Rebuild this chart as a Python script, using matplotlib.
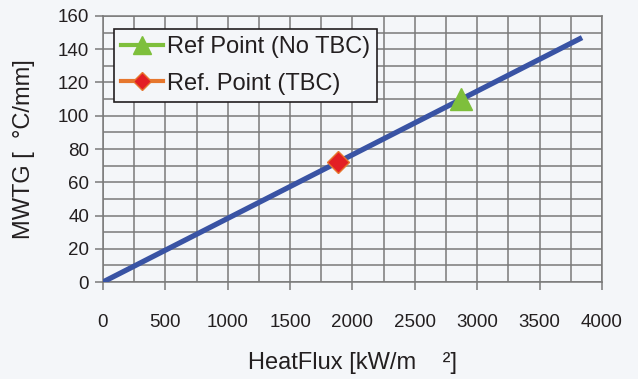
import matplotlib
matplotlib.use("Agg")
import matplotlib.pyplot as plt
from matplotlib.ticker import MultipleLocator

plt.rcParams['font.family'] = ['Liberation Sans', 'DejaVu Sans']

# data
line_x = [0, 3840]
line_y = [0, 147]
no_tbc_x = [2870]
no_tbc_y = [110]
tbc_x = [1880]
tbc_y = [72]
x_ticks = [0, 500, 1000, 1500, 2000, 2500, 3000, 3500, 4000]
y_ticks = [0, 20, 40, 60, 80, 100, 120, 140, 160]

bg = "#f4f6f9"
fig = plt.figure(figsize=(6.38, 3.79), dpi=100, facecolor=bg)
ax = fig.add_axes([0.1614, 0.2559, 0.7822, 0.7019], facecolor=bg)

ax.plot(line_x, line_y, color="#3953a4", lw=3.8, solid_capstyle="butt", zorder=3)
ax.plot(no_tbc_x, no_tbc_y, '-', color="#7ebf3c", lw=3, marker='^', ms=16,
        mfc="#7ebf3c", mec="#7ebf3c", label="Ref Point (No TBC)", zorder=4)
ax.plot(tbc_x, tbc_y, '-', color="#e6772e", lw=3, marker='D', ms=11,
        mfc="#e31e24", mec="#e6772e", mew=1, label="Ref. Point (TBC)", zorder=4)

ax.set_xlim(0, 4000)
ax.set_ylim(0, 160)
ax.set_xticks(x_ticks)
ax.set_yticks(y_ticks)
ax.xaxis.set_minor_locator(MultipleLocator(250))
ax.yaxis.set_minor_locator(MultipleLocator(10))
ax.grid(which='both', color="#7a7a7a", lw=1.1, zorder=1)
ax.set_axisbelow(True)
for s in ax.spines.values():
    s.set_color("#7a7a7a")
    s.set_linewidth(1.1)
ax.tick_params(which='major', length=6, width=1.1, color="#7a7a7a",
               labelsize=13.5, labelcolor="#231f20", pad=4)
ax.tick_params(axis='x', pad=17)
ax.tick_params(which='minor', length=0)

ax.set_xlabel("HeatFlux [kW/m    ²]", fontsize=17, color="#231f20", labelpad=15)
ax.set_ylabel("MWTG [  °C/mm]", fontsize=17, color="#231f20", labelpad=16)

leg = ax.legend(loc='upper left', bbox_to_anchor=(0.0, 0.99), fontsize=17,
                frameon=True, fancybox=False, edgecolor="#231f20",
                facecolor=bg, framealpha=1, handlelength=1.8,
                handletextpad=0.15, borderpad=0.3, labelspacing=0.6,
                borderaxespad=0.45, markerscale=0.85)
leg.get_frame().set_linewidth(1.2)
for t in leg.get_texts():
    t.set_color("#231f20")

fig.savefig("out.png", dpi=100, facecolor=bg)
